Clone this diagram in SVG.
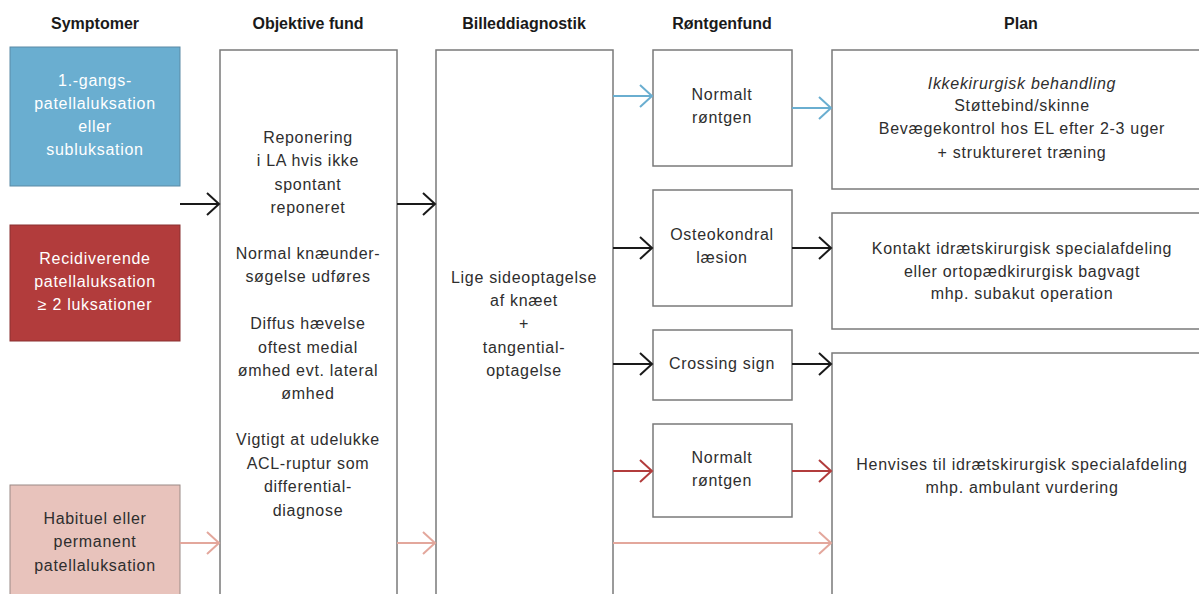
<svg xmlns="http://www.w3.org/2000/svg" width="1199" height="594" viewBox="0 0 1199 594">
<style>
.hd{font-family:"Liberation Sans",Arial,sans-serif;font-size:16px;font-weight:bold;fill:#1a1a1a;text-anchor:middle}
.t{font-family:"Liberation Sans",Arial,sans-serif;font-size:16px;letter-spacing:0.7px;fill:#2e2e2e;text-anchor:middle}
.w{fill:#ffffff}
.box{fill:#ffffff;stroke:#7a7a7a;stroke-width:1.5}
.c{fill:none;stroke-width:2}
</style>
<defs>
<marker id="ak" markerUnits="userSpaceOnUse" markerWidth="16" markerHeight="26" refX="14" refY="13" orient="auto" viewBox="0 0 16 26"><path d="M2,2 L14,13 L2,24" fill="none" stroke="#1a1a1a" stroke-width="2"/></marker>
<marker id="ab" markerUnits="userSpaceOnUse" markerWidth="16" markerHeight="26" refX="14" refY="13" orient="auto" viewBox="0 0 16 26"><path d="M2,2 L14,13 L2,24" fill="none" stroke="#6aaed0" stroke-width="2"/></marker>
<marker id="ar" markerUnits="userSpaceOnUse" markerWidth="16" markerHeight="26" refX="14" refY="13" orient="auto" viewBox="0 0 16 26"><path d="M2,2 L14,13 L2,24" fill="none" stroke="#b23c3c" stroke-width="2"/></marker>
<marker id="ap" markerUnits="userSpaceOnUse" markerWidth="16" markerHeight="26" refX="14" refY="13" orient="auto" viewBox="0 0 16 26"><path d="M2,2 L14,13 L2,24" fill="none" stroke="#e3a79c" stroke-width="2"/></marker>
</defs>
<rect width="1199" height="594" fill="#ffffff"/>
<g id="headers">
<text class="hd" x="95" y="29">Symptomer</text>
<text class="hd" x="308" y="29">Objektive fund</text>
<text class="hd" x="524" y="29">Billeddiagnostik</text>
<text class="hd" x="722" y="29">Røntgenfund</text>
<text class="hd" x="1021" y="29">Plan</text>
</g>
<g id="s1">
<rect x="10" y="47" width="170" height="139" fill="#6aaed0" stroke="#5a8aa5" stroke-width="1"/>
<text class="t w" x="95" y="86">1.-gangs-</text>
<text class="t w" x="95" y="109">patellaluksation</text>
<text class="t w" x="95" y="132">eller</text>
<text class="t w" x="95" y="155">subluksation</text>
</g>
<g id="s2">
<rect x="10" y="225" width="170" height="116" fill="#b23c3c" stroke="#8a3030" stroke-width="1"/>
<text class="t w" x="95" y="264">Recidiverende</text>
<text class="t w" x="95" y="287">patellaluksation</text>
<text class="t w" x="95" y="310">≥ 2 luksationer</text>
</g>
<g id="s3">
<rect x="10" y="485" width="170" height="120" fill="#e8c3bc" stroke="#9a8a86" stroke-width="1"/>
<text class="t" x="95" y="524">Habituel eller</text>
<text class="t" x="95" y="547">permanent</text>
<text class="t" x="95" y="571">patellaluksation</text>
</g>
<g id="obj">
<rect class="box" x="220" y="50" width="177" height="560"/>
<text class="t" x="308" y="143">Reponering</text>
<text class="t" x="308" y="166">i LA hvis ikke</text>
<text class="t" x="308" y="190">spontant</text>
<text class="t" x="308" y="213">reponeret</text>
<text class="t" x="308" y="259">Normal knæunder-</text>
<text class="t" x="308" y="282">søgelse udføres</text>
<text class="t" x="308" y="329">Diffus hævelse</text>
<text class="t" x="308" y="353">oftest medial</text>
<text class="t" x="308" y="376">ømhed evt. lateral</text>
<text class="t" x="308" y="399">ømhed</text>
<text class="t" x="308" y="445">Vigtigt at udelukke</text>
<text class="t" x="308" y="469">ACL-ruptur som</text>
<text class="t" x="308" y="492">differential-</text>
<text class="t" x="308" y="516">diagnose</text>
</g>
<g id="bill">
<rect class="box" x="436" y="50" width="177" height="560"/>
<text class="t" x="524" y="283">Lige sideoptagelse</text>
<text class="t" x="524" y="306">af knæet</text>
<text class="t" x="524" y="329">+</text>
<text class="t" x="524" y="353">tangential-</text>
<text class="t" x="524" y="376">optagelse</text>
</g>
<g id="r1">
<rect class="box" x="653" y="50" width="139" height="116"/>
<text class="t" x="722" y="100">Normalt</text>
<text class="t" x="722" y="123">røntgen</text>
</g>
<g id="r2">
<rect class="box" x="653" y="190" width="139" height="116"/>
<text class="t" x="722" y="240">Osteokondral</text>
<text class="t" x="722" y="263">læsion</text>
</g>
<g id="r3">
<rect class="box" x="653" y="330" width="139" height="70"/>
<text class="t" x="722" y="369">Crossing sign</text>
</g>
<g id="r4">
<rect class="box" x="653" y="424" width="139" height="93"/>
<text class="t" x="722" y="463">Normalt</text>
<text class="t" x="722" y="486">røntgen</text>
</g>
<g id="p1">
<rect class="box" x="832" y="50" width="380" height="139"/>
<text class="t" x="1022" y="89" font-style="italic">Ikkekirurgisk behandling</text>
<text class="t" x="1022" y="111">Støttebind/skinne</text>
<text class="t" x="1022" y="134">Bevægekontrol hos EL efter 2-3 uger</text>
<text class="t" x="1022" y="158">+ struktureret træning</text>
</g>
<g id="p2">
<rect class="box" x="832" y="213" width="380" height="116"/>
<text class="t" x="1022" y="254">Kontakt idrætskirurgisk specialafdeling</text>
<text class="t" x="1022" y="277">eller ortopædkirurgisk bagvagt</text>
<text class="t" x="1022" y="299">mhp. subakut operation</text>
</g>
<g id="p3">
<rect class="box" x="832" y="353" width="380" height="260"/>
<text class="t" x="1022" y="470">Henvises til idrætskirurgisk specialafdeling</text>
<text class="t" x="1022" y="493">mhp. ambulant vurdering</text>
</g>
<g id="connectors">
<path class="c" stroke="#1a1a1a" d="M180,204 H219" marker-end="url(#ak)"/>
<path class="c" stroke="#1a1a1a" d="M397,204 H435" marker-end="url(#ak)"/>
<path class="c" stroke="#e3a79c" d="M180,543 H219" marker-end="url(#ap)"/>
<path class="c" stroke="#e3a79c" d="M397,543 H435" marker-end="url(#ap)"/>
<path class="c" stroke="#6aaed0" d="M613,96 H652" marker-end="url(#ab)"/>
<path class="c" stroke="#6aaed0" d="M792,108 H831" marker-end="url(#ab)"/>
<path class="c" stroke="#1a1a1a" d="M613,248 H652" marker-end="url(#ak)"/>
<path class="c" stroke="#1a1a1a" d="M792,248 H831" marker-end="url(#ak)"/>
<path class="c" stroke="#1a1a1a" d="M613,364 H652" marker-end="url(#ak)"/>
<path class="c" stroke="#1a1a1a" d="M792,364 H831" marker-end="url(#ak)"/>
<path class="c" stroke="#b23c3c" d="M613,471 H652" marker-end="url(#ar)"/>
<path class="c" stroke="#b23c3c" d="M792,471 H831" marker-end="url(#ar)"/>
<path class="c" stroke="#e3a79c" d="M613,543 H831" marker-end="url(#ap)"/>
</g>
</svg>
